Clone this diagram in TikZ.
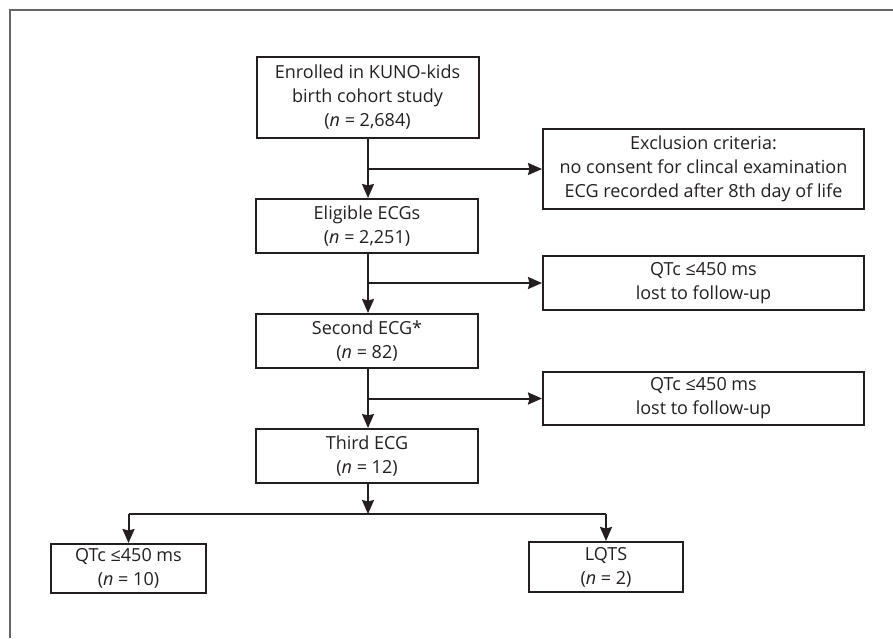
\documentclass[tikz,border=0pt]{standalone}
\usepackage{fontspec}
\setmainfont{Open Sans}
\usetikzlibrary{arrows.meta}
\definecolor{ink}{HTML}{231F20}
\definecolor{frame}{HTML}{666666}
\begin{document}
\begin{tikzpicture}[x=1pt,y=-1pt,
  font=\fontsize{18}{24}\selectfont,
  box/.style={draw=ink, line width=2pt, text=ink, align=center,
    inner sep=0pt, minimum width=#1},
  box/.default=222pt,
  link/.style={draw=ink, line width=2pt},
  arr/.style={link, -{Stealth[length=14pt,width=12pt,inset=1.5pt]}}]
\useasboundingbox (0,0) rectangle (893,638);
% open outer frame
\draw[frame, line width=1.8pt] (10,638) -- (10,10) -- (893,10);

% main column
\node[box, minimum height=81pt] (enr) at (367.5,97.5)
  {Enrolled in KUNO-kids\\birth cohort study\\(\textit{n} = 2,684)};
\node[box, minimum height=54pt] (elig) at (367,226)
  {Eligible ECGs\\(\textit{n} = 2,251)};
\node[box, minimum height=54pt] (sec) at (367,341)
  {Second ECG*\\(\textit{n} = 82)};
\node[box, minimum height=54pt] (third) at (367,456)
  {Third ECG\\(\textit{n} = 12)};

% exclusions
\node[box=321pt, minimum height=80pt] (ex1) at (703.5,169)
  {Exclusion criteria:\\no consent for clincal examination\\ECG recorded after 8th day of life};
\node[box=321pt, minimum height=54pt] (ex2) at (703.5,283)
  {QTc ≤450 ms\\lost to follow-up};
\node[box=321pt, minimum height=53pt] (ex3) at (703.5,398.5)
  {QTc ≤450 ms\\lost to follow-up};

% outcomes
\node[box=155pt, minimum height=49pt] (norm) at (128.5,568.5)
  {QTc ≤450 ms\\(\textit{n} = 10)};
\node[box=154pt, minimum height=50pt] (lqts) at (606,567)
  {LQTS\\(\textit{n} = 2)};

% branch points
\coordinate (b1) at (368,169);
\coordinate (b2) at (368,283);
\coordinate (b3) at (368,398.5);
\coordinate (split) at (368,514);

\draw[arr] (enr.south -| b1) -- (elig.north -| b1);
\draw[arr] (b1) -- (ex1.west);
\draw[arr] (elig.south -| b2) -- (sec.north -| b2);
\draw[arr] (b2) -- (ex2.west);
\draw[arr] (sec.south -| b3) -- (third.north -| b3);
\draw[arr] (b3) -- (ex3.west);
\draw[arr] (third.south -| split) -- (split);
\draw[link] (split -| norm) -- (split -| lqts);
\draw[arr] (split -| norm) -- (norm.north);
\draw[arr] (split -| lqts) -- (lqts.north);
\end{tikzpicture}
\end{document}
